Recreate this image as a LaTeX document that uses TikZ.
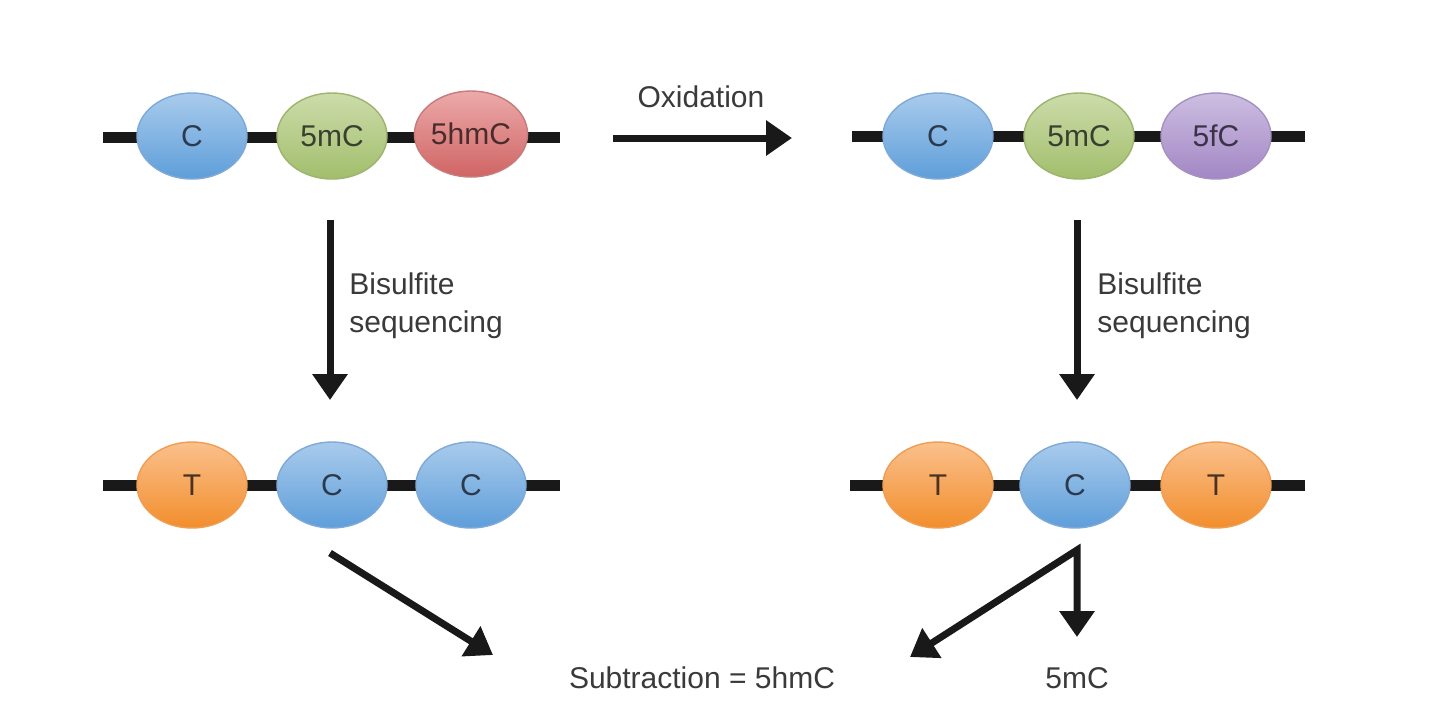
\documentclass[tikz,border=0pt]{standalone}
\usepackage{fontspec}
\setmainfont{Liberation Sans}
\usetikzlibrary{shapes.geometric,arrows.meta}
\definecolor{txt}{HTML}{3A3A3A}
\definecolor{bluetop}{HTML}{A9CBEC}\definecolor{bluebot}{HTML}{5E9EDA}\definecolor{blueline}{HTML}{7FA9D6}\definecolor{bluetxt}{HTML}{2C3A4E}
\definecolor{greentop}{HTML}{CCDCAA}\definecolor{greenbot}{HTML}{A2BE6C}\definecolor{greenline}{HTML}{9DB46E}\definecolor{greentxt}{HTML}{3A4030}
\definecolor{redtop}{HTML}{ECAAAA}\definecolor{redbot}{HTML}{D06464}\definecolor{redline}{HTML}{C77B7B}\definecolor{redtxt}{HTML}{4A2C2C}
\definecolor{purptop}{HTML}{CDBEE2}\definecolor{purpbot}{HTML}{A287C4}\definecolor{purpline}{HTML}{A493C0}\definecolor{purptxt}{HTML}{3A3446}
\definecolor{orgtop}{HTML}{FAC08C}\definecolor{orgbot}{HTML}{F28E2C}\definecolor{orgline}{HTML}{EE9E55}\definecolor{orgtxt}{HTML}{4A3222}
\tikzset{
  base/.style={ellipse, minimum width=55pt, minimum height=43pt, inner sep=0pt, line width=0.7pt,
    font=\fontsize{15}{18}\selectfont},
  bluebase/.style={base, top color=bluetop, bottom color=bluebot, draw=blueline, text=bluetxt},
  greenbase/.style={base, top color=greentop, bottom color=greenbot, draw=greenline, text=greentxt},
  redbase/.style={base, top color=redtop, bottom color=redbot, draw=redline, text=redtxt},
  purpbase/.style={base, top color=purptop, bottom color=purpbot, draw=purpline, text=purptxt},
  orgbase/.style={base, top color=orgtop, bottom color=orgbot, draw=orgline, text=orgtxt},
  strand/.style={line width=5.5pt, black!90},
  arr/.style={line width=3.5pt, black!90, -{Triangle[width=17pt,length=13pt]}},
  dblarr/.style={line width=3.5pt, black!90, {Triangle[width=17pt,length=13pt]}-{Triangle[width=17pt,length=13pt]}, line join=miter},
  lbl/.style={font=\fontsize{15}{18}\selectfont, text=txt, inner sep=0pt}
}
\begin{document}
\begin{tikzpicture}[x=0.5pt,y=-0.5pt]
\useasboundingbox (0,0) rectangle (1430,720);
\fill[white] (0,0) rectangle (1430,720);
% strands
\coordinate (tlA) at (103,137); \coordinate (tlB) at (560,137);
\coordinate (trA) at (852,136); \coordinate (trB) at (1305,136);
\coordinate (blA) at (103,485); \coordinate (blB) at (560,485);
\coordinate (brA) at (850,485); \coordinate (brB) at (1305,485);
\draw[strand] (tlA) -- (tlB);
\draw[strand] (trA) -- (trB);
\draw[strand] (blA) -- (blB);
\draw[strand] (brA) -- (brB);
% top-left
\node[bluebase] (tl1) at (192,136) {C};
\node[greenbase] (tl2) at (332,136) {5mC};
\node[redbase] (tl3) at (471,134) {5hmC};
% top-right
\node[bluebase] (tr1) at (938,136) {C};
\node[greenbase] (tr2) at (1079,136) {5mC};
\node[purpbase] (tr3) at (1216,136) {5fC};
% bottom-left
\node[orgbase] (bl1) at (192,485) {T};
\node[bluebase] (bl2) at (332,485) {C};
\node[bluebase] (bl3) at (471,485) {C};
% bottom-right
\node[orgbase] (br1) at (938,485) {T};
\node[bluebase] (br2) at (1075,485) {C};
\node[orgbase] (br3) at (1216,485) {T};
% oxidation arrow
\coordinate (oxA) at (613,138); \coordinate (oxB) at (792,138);
\draw[arr] (oxA) -- (oxB);
\node[lbl] (ox) at (701,97) {Oxidation};
% bisulfite arrows
\coordinate (lvA) at (330,220); \coordinate (lvB) at (330,400);
\coordinate (rvA) at (1077,220); \coordinate (rvB) at (1077,400);
\draw[arr] (lvA) -- (lvB);
\draw[arr] (rvA) -- (rvB);
\node[lbl, anchor=north west, align=left, font=\fontsize{15}{19}\selectfont] (bsL) at (349,272) {Bisulfite\\sequencing};
\node[lbl, anchor=north west, align=left, font=\fontsize{15}{19}\selectfont] (bsR) at (1097,272) {Bisulfite\\sequencing};
% bottom arrows
\coordinate (ldA) at (330,553); \coordinate (ldB) at (493,655);
\draw[arr] (ldA) -- (ldB);
\coordinate (split) at (1077,550);
\coordinate (subtip) at (910,657);
\coordinate (mtip) at (1077,637);
\draw[dblarr] (subtip) -- (split) -- (mtip);
\node[lbl] (sub) at (702,678) {Subtraction = 5hmC};
\node[lbl] (mc) at (1077,678) {5mC};
\end{tikzpicture}
\end{document}
